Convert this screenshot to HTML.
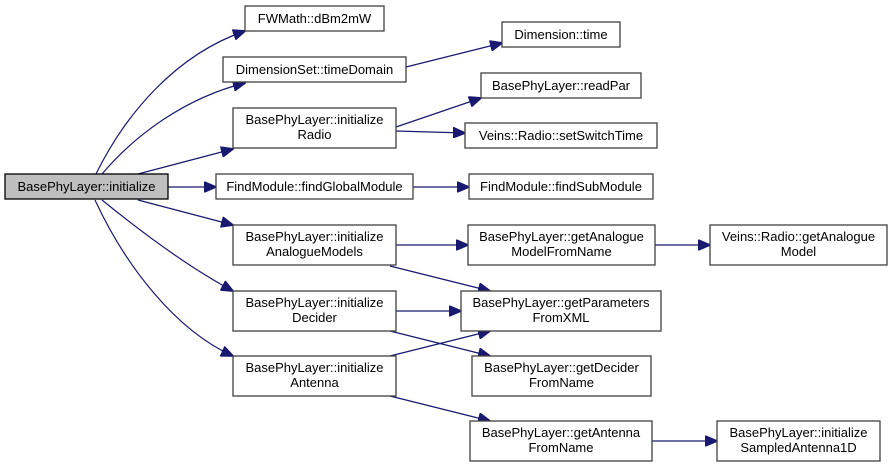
<!DOCTYPE html>
<html><head><meta charset="utf-8"><style>
html,body{margin:0;padding:0;background:#fff;}
svg{display:block;}
text{font-family:"Liberation Sans",Helvetica,Arial,sans-serif;font-size:13px;fill:#000;}
.b{fill:#fff;stroke:#404040;stroke-width:1.3;}
.e{fill:none;stroke:#191970;stroke-width:1.2;}
</style></head><body>
<svg width="893" height="467" viewBox="0 0 893 467">
<defs><marker id="a" markerWidth="13" markerHeight="11" refX="12" refY="5.5" orient="auto" markerUnits="userSpaceOnUse"><path d="M0,0 L13,5.5 L0,11 z" fill="#191970" stroke="#191970"/></marker></defs>
<g class="e" marker-end="url(#a)">
<path d="M96,174 C125,115 175,55 245,31"/>
<path d="M102,174 C135,135 185,98 245,83"/>
<path d="M138,174 L233,149"/>
<path d="M168,187 L216,187"/>
<path d="M138,200 L233,225"/>
<path d="M102,200 C145,235 190,268 233,291"/>
<path d="M95,200 C125,265 175,330 233,356"/>
<path d="M406,67 L502,43"/>
<path d="M396,127 L481,98"/>
<path d="M396,131 L465,133"/>
<path d="M413,187 L469,187"/>
<path d="M396,245 L468,245"/>
<path d="M655,245 L710,245"/>
<path d="M390,266 L490,291"/>
<path d="M396,311 L461,311"/>
<path d="M390,331 L490,356"/>
<path d="M390,356 L490,331"/>
<path d="M390,396 L490,421"/>
<path d="M652,441 L717,441"/>
</g>
<rect x="5" y="174" width="163" height="25" fill="#bfbfbf" stroke="#000" stroke-width="1.3"/>
<text x="86.5" y="191" text-anchor="middle">BasePhyLayer::initialize</text>
<g>
<rect class="b" x="245" y="6" width="139" height="25"/><text x="314.5" y="23" text-anchor="middle">FWMath::dBm2mW</text>
<rect class="b" x="223" y="57" width="183" height="25"/><text x="314.5" y="74" text-anchor="middle">DimensionSet::timeDomain</text>
<rect class="b" x="233" y="108" width="163" height="40"/><text x="314.5" y="124" text-anchor="middle">BasePhyLayer::initialize</text><text x="314.5" y="139" text-anchor="middle">Radio</text>
<rect class="b" x="216" y="174" width="197" height="25"/><text x="314.5" y="191" text-anchor="middle">FindModule::findGlobalModule</text>
<rect class="b" x="233" y="225" width="163" height="40"/><text x="314.5" y="241" text-anchor="middle">BasePhyLayer::initialize</text><text x="314.5" y="256" text-anchor="middle">AnalogueModels</text>
<rect class="b" x="233" y="291" width="163" height="40"/><text x="314.5" y="307" text-anchor="middle">BasePhyLayer::initialize</text><text x="314.5" y="322" text-anchor="middle">Decider</text>
<rect class="b" x="233" y="356" width="163" height="40"/><text x="314.5" y="372" text-anchor="middle">BasePhyLayer::initialize</text><text x="314.5" y="387" text-anchor="middle">Antenna</text>
<rect class="b" x="502" y="22" width="118" height="25"/><text x="561" y="39" text-anchor="middle">Dimension::time</text>
<rect class="b" x="481" y="73" width="160" height="25"/><text x="561" y="90" text-anchor="middle">BasePhyLayer::readPar</text>
<rect class="b" x="465" y="123" width="192" height="25"/><text x="561" y="140" text-anchor="middle">Veins::Radio::setSwitchTime</text>
<rect class="b" x="469" y="174" width="184" height="25"/><text x="561" y="191" text-anchor="middle">FindModule::findSubModule</text>
<rect class="b" x="468" y="225" width="187" height="40"/><text x="561.5" y="241" text-anchor="middle">BasePhyLayer::getAnalogue</text><text x="561.5" y="256" text-anchor="middle">ModelFromName</text>
<rect class="b" x="461" y="291" width="200" height="40"/><text x="561" y="307" text-anchor="middle">BasePhyLayer::getParameters</text><text x="561" y="322" text-anchor="middle">FromXML</text>
<rect class="b" x="472" y="356" width="179" height="40"/><text x="561.5" y="372" text-anchor="middle">BasePhyLayer::getDecider</text><text x="561.5" y="387" text-anchor="middle">FromName</text>
<rect class="b" x="470" y="421" width="182" height="40"/><text x="561" y="437" text-anchor="middle">BasePhyLayer::getAntenna</text><text x="561" y="452" text-anchor="middle">FromName</text>
<rect class="b" x="710" y="225" width="177" height="40"/><text x="798.5" y="241" text-anchor="middle">Veins::Radio::getAnalogue</text><text x="798.5" y="256" text-anchor="middle">Model</text>
<rect class="b" x="717" y="421" width="163" height="40"/><text x="798.5" y="437" text-anchor="middle">BasePhyLayer::initialize</text><text x="798.5" y="452" text-anchor="middle">SampledAntenna1D</text>
</g>
</svg>
</body></html>
